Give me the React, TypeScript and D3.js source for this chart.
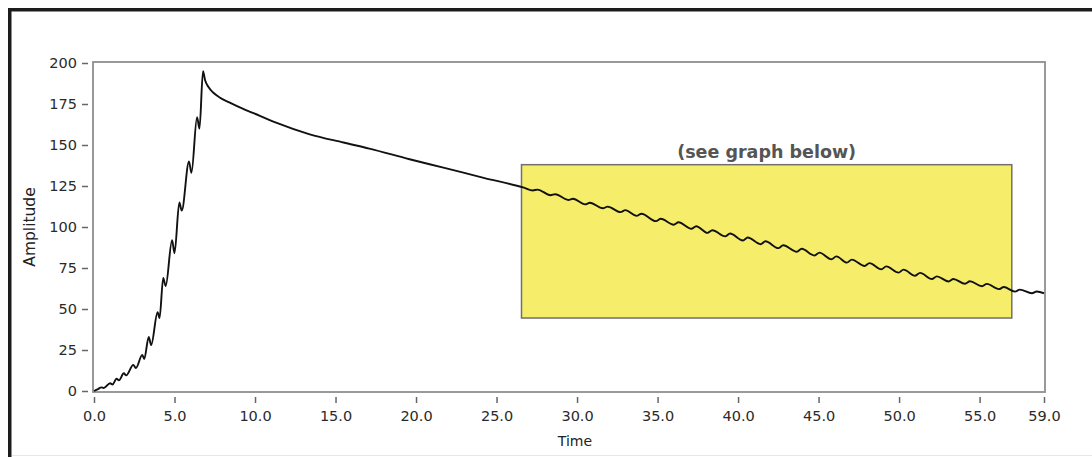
import * as d3 from "d3";
import { useEffect, useRef } from "react";

// build-up: each pulse jumps the amplitude, then it sags a little
const riseTime = [0, 0.25, 0.45, 0.6, 1.0, 1.15, 1.4, 1.55, 1.85, 2.0, 2.44, 2.6, 3.0, 3.12, 3.4, 3.55, 3.95, 4.07, 4.3, 4.45, 4.85, 5.0, 5.3, 5.45, 5.9, 6.05, 6.4, 6.55, 6.77];
const riseAmp = [0, 1.2, 2.2, 1.8, 4.7, 4.0, 7.5, 6.5, 10.8, 9.5, 15.9, 14.0, 22.0, 19.5, 33.0, 28.0, 48.0, 44.5, 69.0, 64.0, 92.0, 84.0, 115.0, 110.0, 140.0, 133.0, 167.0, 160.0, 195.0];

// smooth decay after the peak
const decayTime = [6.9, 7.1, 7.4, 7.8, 8.4, 9.27, 10.3, 11.35, 13.4, 15.5, 17.1, 19.6, 21.7, 24.2, 26.7];
const decayAmp = [189.5, 185.5, 182.0, 179.0, 176.0, 172.0, 167.8, 163.5, 156.5, 151.5, 147.8, 141.3, 136.2, 130.0, 124.0];

// rippled tail (trough, peak pairs)
const rippleTime = [27.25, 27.55, 28.35, 28.65, 29.45, 29.75, 30.5, 30.8, 31.6, 31.9, 32.7, 33.0, 33.7, 34.0, 34.9, 35.2, 36.0, 36.3, 37.1, 37.4, 38.1, 38.4, 39.2, 39.5, 40.3, 40.6, 41.4, 41.7, 42.5, 42.8, 43.65, 43.95, 44.75, 45.05, 45.8, 46.1, 46.76, 47.06, 47.86, 48.16, 48.9, 49.2, 49.97, 50.27, 51.0, 51.3, 52.04, 52.34, 53.07, 53.37, 54.1, 54.4, 55.15, 55.45, 56.2, 56.5, 57.2, 57.5, 58.25, 58.55, 59.0];
const rippleAmp = [122.3, 122.8, 119.4, 120.0, 116.5, 117.2, 113.8, 114.8, 111.4, 112.4, 109.1, 110.3, 106.8, 108.1, 103.6, 105.0, 101.4, 102.9, 98.9, 100.5, 96.4, 98.0, 94.3, 96.0, 91.8, 93.6, 89.5, 91.3, 87.1, 88.9, 84.9, 86.7, 82.6, 84.4, 80.3, 82.1, 78.3, 80.1, 76.2, 78.0, 74.2, 76.0, 72.2, 74.0, 70.3, 72.0, 68.3, 69.9, 66.8, 68.3, 65.4, 66.9, 63.9, 65.3, 62.1, 63.4, 60.6, 61.8, 59.6, 60.7, 59.6];

const xTicks = [0, 5, 10, 15, 20, 25, 30, 35, 40, 45, 50, 55, 59];
const yTicks = [0, 25, 50, 75, 100, 125, 150, 175, 200];

// highlighted region (data units)
const boxTime = [26.55, 57.0];
const boxAmp = [44.5, 138.0];
const boxNote = "(see graph below)";

const W = 1092;
const H = 457;

export default function App() {
    const ref = useRef<SVGSVGElement>(null);

    useEffect(() => {
        const svg = d3.select(ref.current);
        svg.selectAll("*").remove();

        const x = d3.scaleLinear().domain([0, 59]).range([94, 1044]);
        const y = d3.scaleLinear().domain([0, 200]).range([391, 63]);

        const times = [...riseTime, ...decayTime, ...rippleTime];
        const amps = [...riseAmp, ...decayAmp, ...rippleAmp];
        const pts: [number, number][] = times.map((t, i) => [t, amps[i]]);

        // outer panel border (top + left only visible)
        svg.append("path")
            .attr("d", `M9.75,${H} V9.75 H${W}`)
            .attr("fill", "none")
            .attr("stroke", "#1c1c1c")
            .attr("stroke-width", 3.5);
        svg.append("line")
            .attr("x1", 12).attr("x2", W)
            .attr("y1", H - 1.5).attr("y2", H - 1.5)
            .attr("stroke", "#e6e6e6");

        // plot frame
        svg.append("rect")
            .attr("x", x(0) - 1)
            .attr("y", y(200) - 1)
            .attr("width", x(59) - x(0) + 2)
            .attr("height", y(0) - y(200) + 2)
            .attr("fill", "none")
            .attr("stroke", "#8e8e8e")
            .attr("stroke-width", 1.8);

        // y axis
        const yAxis = svg.append("g")
            .attr("transform", "translate(88,0)")
            .call(d3.axisLeft(y).tickValues(yTicks).tickSize(6).tickPadding(5).tickFormat(d3.format("d")));
        yAxis.select(".domain").remove();

        // x axis
        const xAxis = svg.append("g")
            .attr("transform", "translate(0,397)")
            .call(d3.axisBottom(x).tickValues(xTicks).tickSize(6).tickPadding(8).tickFormat(d3.format(".1f")));
        xAxis.select(".domain").remove();

        svg.selectAll(".tick line")
            .attr("stroke", "#666")
            .attr("stroke-width", 1.5);
        svg.selectAll(".tick text")
            .attr("fill", "#2a2a2a")
            .style("font-family", "'DejaVu Sans', sans-serif")
            .style("font-size", "14.5px");

        // axis titles
        svg.append("text")
            .attr("transform", `translate(35,${(y(0) + y(200)) / 2}) rotate(-90)`)
            .attr("text-anchor", "middle")
            .attr("fill", "#222")
            .style("font-family", "'DejaVu Sans', sans-serif")
            .style("font-size", "15.5px")
            .text("Amplitude");
        svg.append("text")
            .attr("x", (x(0) + x(59)) / 2 + 6)
            .attr("y", 446)
            .attr("text-anchor", "middle")
            .attr("fill", "#222")
            .style("font-family", "'DejaVu Sans', sans-serif")
            .style("font-size", "14px")
            .text("Time");

        // highlight box + note
        svg.append("rect")
            .attr("x", x(boxTime[0]))
            .attr("y", y(boxAmp[1]))
            .attr("width", x(boxTime[1]) - x(boxTime[0]))
            .attr("height", y(boxAmp[0]) - y(boxAmp[1]))
            .attr("fill", "#f6ee6b")
            .attr("stroke", "#707070")
            .attr("stroke-width", 1.5);
        svg.append("text")
            .attr("x", (x(boxTime[0]) + x(boxTime[1])) / 2)
            .attr("y", y(boxAmp[1]) - 7)
            .attr("text-anchor", "middle")
            .attr("fill", "#555")
            .style("font-family", "'DejaVu Sans', sans-serif")
            .style("font-weight", "bold")
            .style("font-size", "17.5px")
            .text(boxNote);

        // signal
        const line = d3.line<[number, number]>()
            .x((d) => x(d[0]))
            .y((d) => y(d[1]))
            .curve(d3.curveMonotoneX);
        svg.append("path")
            .datum(pts)
            .attr("d", line)
            .attr("fill", "none")
            .attr("stroke", "#111")
            .attr("stroke-width", 1.9)
            .attr("stroke-linejoin", "round");
    }, []);

    return (
        <div style={{ position: "absolute", left: 0, top: 0 }}>
            <svg ref={ref} width={W} height={H} style={{ display: "block", background: "#fff" }} />
        </div>
    );
}
